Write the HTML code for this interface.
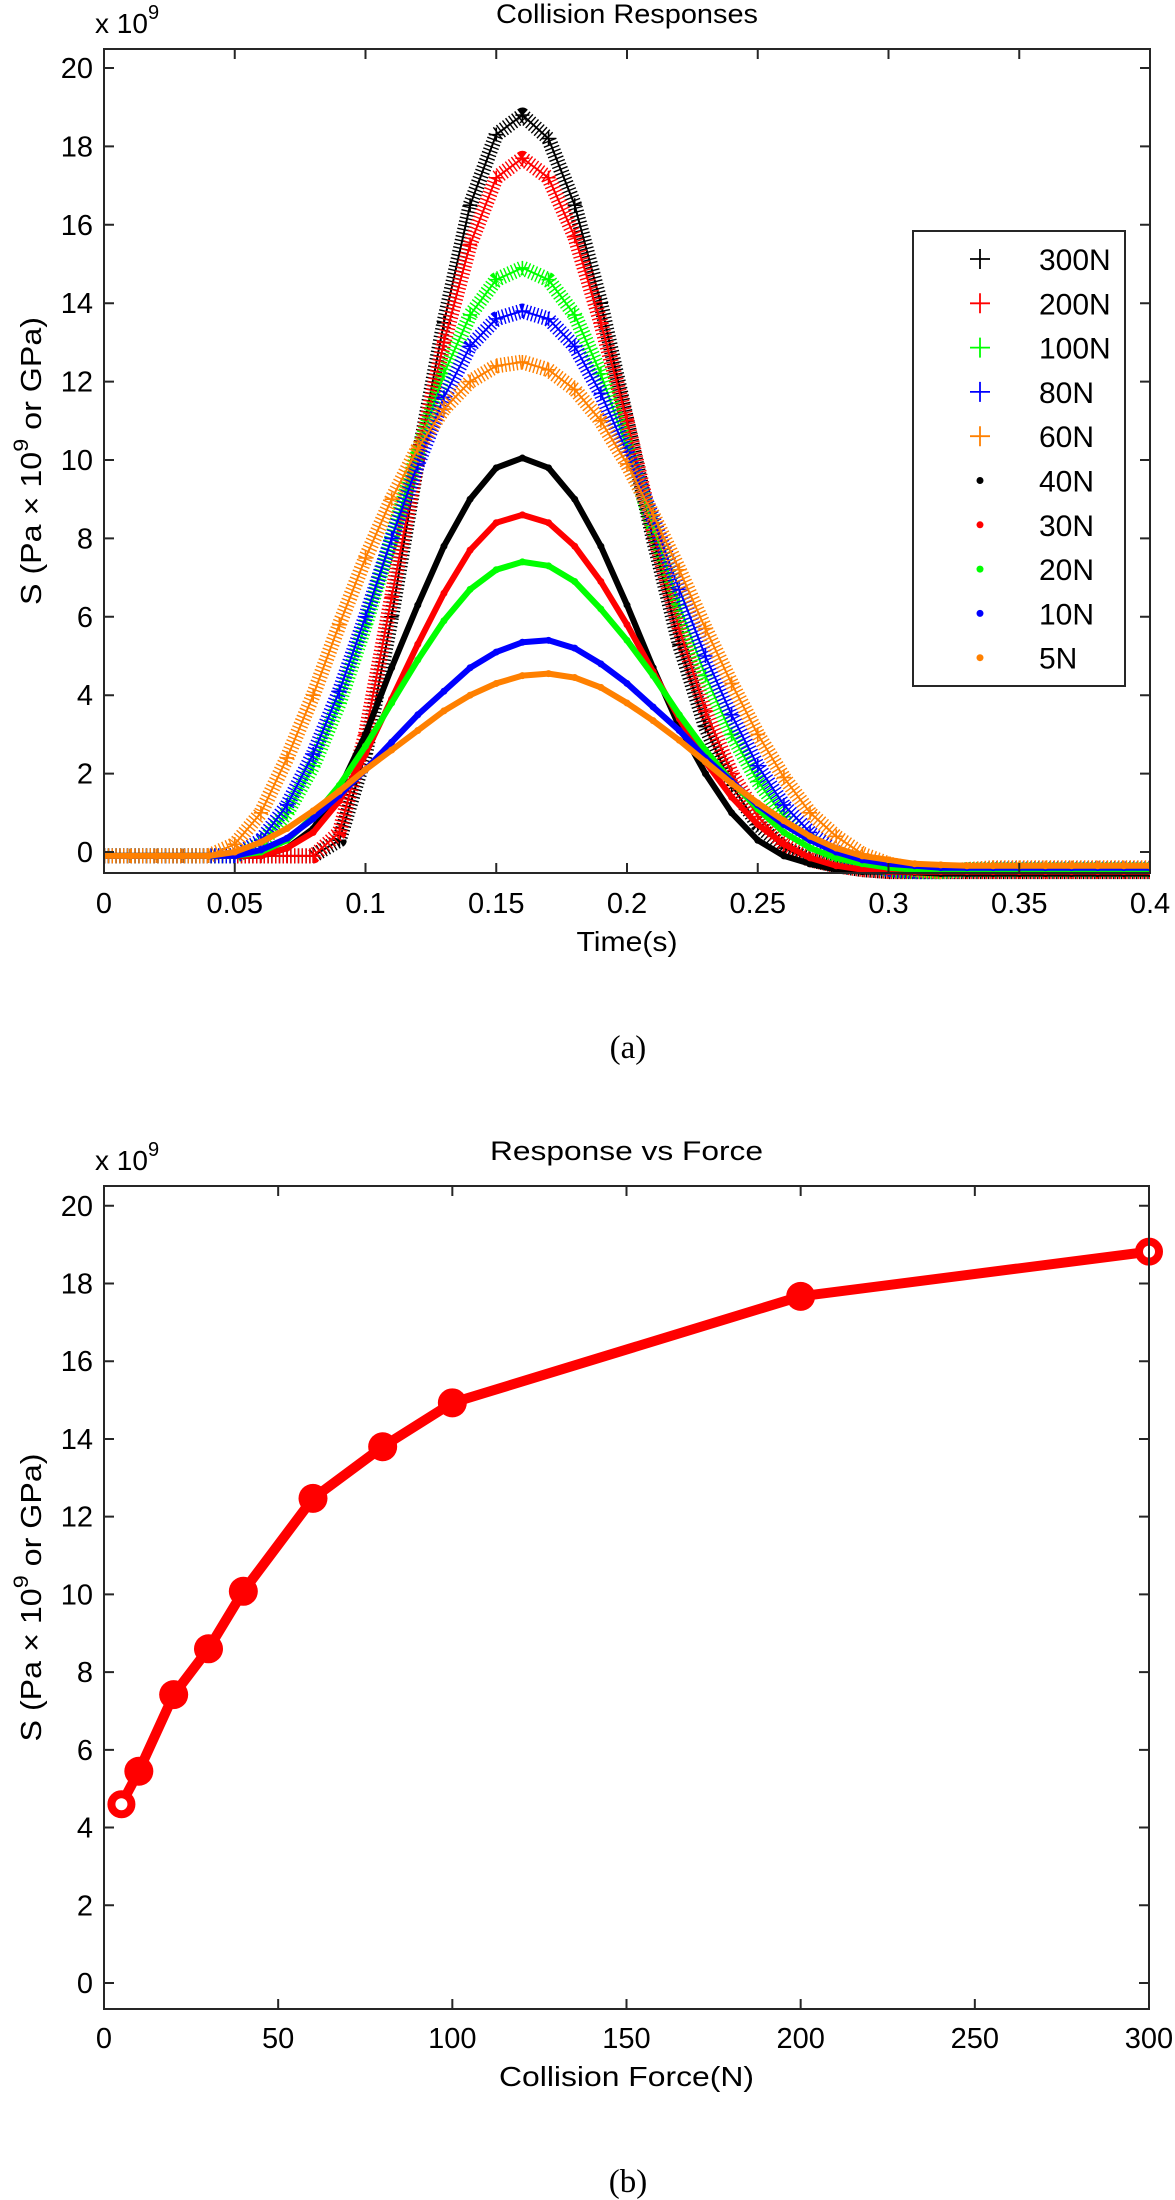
<!DOCTYPE html>
<html><head><meta charset="utf-8"><style>
html,body{margin:0;padding:0;background:#fff;}
svg{display:block;font-family:"Liberation Sans",Arial,sans-serif;}
</style></head><body>
<svg id="fig" width="1175" height="2200" viewBox="0 0 1175 2200" xmlns="http://www.w3.org/2000/svg">
<rect width="1175" height="2200" fill="#fff"/>
<g id="chartA"></g>
<g id="chartB"></g>
<text x="628" y="1058" font-family="Liberation Serif, serif" font-size="33" text-anchor="middle">(a)</text>
<text x="628" y="2192" font-family="Liberation Serif, serif" font-size="33" text-anchor="middle">(b)</text>
</svg>
<script>
// ---------- Chart A data ----------
const timeSamples = [0,0.01,0.02,0.03,0.04,0.05,0.06,0.07,0.08,0.09,0.10,0.11,0.12,0.13,0.14,0.15,0.16,0.17,0.18,0.19,0.20,0.21,0.22,0.23,0.24,0.25,0.26,0.27,0.28,0.29,0.30,0.31,0.32,0.33,0.34,0.35,0.36,0.37,0.38,0.39,0.40];
const seriesNames = ["300N","200N","100N","80N","60N","40N","30N","20N","10N","5N"];
const seriesColors = ["#000","#ff0000","#00ff00","#0000ff","#ff8000","#000","#ff0000","#00ff00","#0000ff","#ff8000"];
const seriesMarkers = ["plus","plus","plus","plus","plus","dot","dot","dot","dot","dot"];
const s300 = [-0.1,-0.1,-0.1,-0.1,-0.1,-0.1,-0.1,-0.1,-0.1,0.3,2.5,6,10,13.5,16.5,18.3,18.8,18.2,16.5,14,11,8,5.3,3.2,1.7,0.7,0.1,-0.2,-0.35,-0.45,-0.5,-0.5,-0.5,-0.5,-0.5,-0.5,-0.5,-0.5,-0.5,-0.5,-0.5];
const s200 = [-0.1,-0.1,-0.1,-0.1,-0.1,-0.1,-0.1,-0.1,-0.1,0.5,3,6.5,10,13,15.5,17.2,17.7,17.2,15.7,13.5,11,8.2,5.7,3.6,2,0.9,0.2,-0.2,-0.35,-0.45,-0.5,-0.5,-0.5,-0.5,-0.5,-0.5,-0.5,-0.5,-0.5,-0.5,-0.5];
const s100 = [-0.1,-0.1,-0.1,-0.1,-0.1,-0.1,0.2,1,2.2,3.8,5.8,8,10.2,12.2,13.7,14.6,14.9,14.6,13.7,12.2,10.3,8.3,6.3,4.5,3,1.8,0.9,0.3,-0.1,-0.3,-0.45,-0.5,-0.5,-0.45,-0.45,-0.45,-0.45,-0.45,-0.45,-0.45,-0.45];
const s80 = [-0.1,-0.1,-0.1,-0.1,-0.1,-0.1,0.3,1.2,2.5,4.1,6,8,9.9,11.6,12.9,13.6,13.8,13.6,12.9,11.7,10.2,8.5,6.7,5,3.5,2.2,1.2,0.5,0,-0.3,-0.45,-0.5,-0.5,-0.45,-0.42,-0.42,-0.42,-0.42,-0.42,-0.42,-0.42];
const s60 = [-0.1,-0.1,-0.1,-0.1,-0.1,0.2,1,2.4,4,5.8,7.5,9,10.3,11.3,12,12.4,12.5,12.3,11.8,11,9.9,8.6,7.2,5.7,4.3,3,1.9,1,0.4,-0.05,-0.3,-0.45,-0.5,-0.45,-0.4,-0.4,-0.4,-0.4,-0.4,-0.4,-0.4];
const s40 = [-0.1,-0.1,-0.1,-0.1,-0.1,-0.1,-0.1,0.1,0.6,1.6,3,4.7,6.3,7.8,9,9.8,10.05,9.8,9,7.8,6.3,4.7,3.2,2,1,0.3,-0.1,-0.3,-0.45,-0.5,-0.5,-0.52,-0.55,-0.55,-0.55,-0.55,-0.55,-0.55,-0.55,-0.55,-0.55];
const s30 = [-0.1,-0.1,-0.1,-0.1,-0.1,-0.1,-0.1,0.1,0.5,1.3,2.5,3.9,5.3,6.6,7.7,8.4,8.6,8.4,7.8,6.9,5.8,4.6,3.4,2.3,1.4,0.7,0.2,-0.15,-0.35,-0.45,-0.5,-0.5,-0.5,-0.5,-0.5,-0.5,-0.5,-0.5,-0.5,-0.5,-0.5];
const s20 = [-0.1,-0.1,-0.1,-0.1,-0.1,-0.1,0,0.3,0.9,1.7,2.7,3.8,4.9,5.9,6.7,7.2,7.4,7.3,6.9,6.2,5.4,4.5,3.5,2.6,1.8,1.1,0.5,0.1,-0.15,-0.3,-0.4,-0.45,-0.45,-0.45,-0.45,-0.45,-0.45,-0.45,-0.45,-0.45,-0.45];
const s10 = [-0.1,-0.1,-0.1,-0.1,-0.1,-0.1,0.05,0.35,0.85,1.45,2.1,2.8,3.5,4.1,4.7,5.1,5.35,5.4,5.2,4.8,4.3,3.7,3.1,2.4,1.8,1.2,0.7,0.3,0,-0.2,-0.3,-0.35,-0.4,-0.4,-0.4,-0.4,-0.4,-0.4,-0.4,-0.4,-0.4];
const s5 = [-0.1,-0.1,-0.1,-0.1,-0.1,0,0.25,0.6,1.05,1.55,2.1,2.6,3.1,3.6,4,4.3,4.5,4.55,4.45,4.2,3.8,3.35,2.85,2.3,1.75,1.25,0.8,0.4,0.1,-0.1,-0.2,-0.3,-0.33,-0.35,-0.35,-0.35,-0.35,-0.35,-0.35,-0.35,-0.35];
const xTicksA = [0,0.05,0.1,0.15,0.2,0.25,0.3,0.35,0.4];
const xTickLabelsA = ["0","0.05","0.1","0.15","0.2","0.25","0.3","0.35","0.4"];
const yTicksA = [0,2,4,6,8,10,12,14,16,18,20];
// ---------- Chart B data ----------
const forces = [5,10,20,30,40,60,80,100,200,300];
const peakValues = [4.6,5.45,7.42,8.6,10.08,12.47,13.8,14.93,17.67,18.82];
const xTicksB = [0,50,100,150,200,250,300];
const yTicksB = [0,2,4,6,8,10,12,14,16,18,20];

const NS = "http://www.w3.org/2000/svg";
function mk(parent, tag, attrs, text){
  const e = document.createElementNS(NS, tag);
  for (const k in attrs) e.setAttribute(k, attrs[k]);
  if (text !== undefined) e.textContent = text;
  parent.appendChild(e);
  return e;
}

function drawAxes(g, o){
  // frame
  const frame = mk(g,'rect',{x:o.L,y:o.T,width:o.R-o.L,height:o.B-o.T,fill:'none',stroke:'#262626','stroke-width':2});
  
  
  o.xt.forEach((v,i)=>{
    const x = o.sx(v);
    const t1 = mk(g,'path',{d:`M${x},${o.B}V${o.B-10}M${x},${o.T}V${o.T+10}`,stroke:'#262626','stroke-width':2});
    
    
    const lb = mk(g,'text',{x:x,y:o.xlabY,'font-size':29,'text-anchor':'middle'},o.xl[i]);
    
    
  });
  o.yt.forEach(v=>{
    const y = o.sy(v);
    const t1 = mk(g,'path',{d:`M${o.L},${y}H${o.L+10}M${o.R},${y}H${o.R-10}`,stroke:'#262626','stroke-width':2});
    
    
    const lb = mk(g,'text',{x:o.L-11,y:y+10,'font-size':29,'text-anchor':'end'},String(v));
    
    
  });
  const ex = mk(g,'text',{x:o.L-9,y:o.T-16,'font-size':28});
  
  
  mk(ex,'tspan',{},'x 10');
  mk(ex,'tspan',{dy:-14,'font-size':20},'9');
  const tt = mk(g,'text',{x:(o.L+o.R)/2,y:o.titleY,'font-size':27,'text-anchor':'middle',textLength:o.titleLen,lengthAdjust:'spacingAndGlyphs'},o.title);
  
  
  const xl = mk(g,'text',{x:(o.L+o.R)/2,y:o.xTitleY,'font-size':28,'text-anchor':'middle',textLength:o.xTitleLen,lengthAdjust:'spacingAndGlyphs'},o.xTitle);
  
  
  const cy = (o.T+o.B)/2;
  const yl = mk(g,'text',{x:0,y:0,'font-size':29,'text-anchor':'middle',transform:`translate(41,${cy}) rotate(-90)`,textLength:288,lengthAdjust:'spacingAndGlyphs'});
  
  
  mk(yl,'tspan',{},'S (Pa \u00d7 10');
  mk(yl,'tspan',{dy:-13,'font-size':21},'9');
  mk(yl,'tspan',{dy:13},' or GPa)');
}

// ---------- Chart A ----------
(function(){
  const g = document.getElementById('chartA');
  const L=104,R=1150,T=49,B=873;
  const sx = v => L + (v-0)/(0.4-0)*(R-L);
  const sy = v => 852 - v*39.2;
  const allSeries = [s300,s200,s100,s80,s60,s40,s30,s20,s10,s5];
  const clip = mk(g,'clipPath',{id:'clipA'});
  mk(clip,'rect',{x:L,y:T,width:R-L,height:B-T+12});
  const plot = mk(g,'g',{'clip-path':'url(#clipA)'});
  allSeries.forEach((vals,si)=>{
    const col = seriesColors[si];
    const sg = mk(plot,'g',{});
    
    
    const pts = vals.map((v,i)=>`${sx(timeSamples[i]).toFixed(1)},${sy(v).toFixed(1)}`).join(' ');
    if (seriesMarkers[si]==='plus'){
      mk(sg,'polyline',{points:pts,fill:'none',stroke:col,'stroke-width':15,'stroke-dasharray':'1.4 2.4','stroke-linejoin':'round'});
      mk(sg,'polyline',{points:pts,fill:'none',stroke:col,'stroke-width':2});
      vals.forEach((v,i)=>{
        const x=sx(timeSamples[i]), y=sy(v);
        const m = mk(sg,'path',{d:`M${x-7},${y}H${x+7}M${x},${y-7}V${y+7}`,stroke:col,'stroke-width':1.6});
        
        
      });
    } else {
      mk(sg,'polyline',{points:pts,fill:'none',stroke:col,'stroke-width':6,'stroke-linejoin':'round','stroke-linecap':'round'});
      vals.forEach((v,i)=>{
        const m = mk(sg,'circle',{cx:sx(timeSamples[i]),cy:sy(v),r:3.5,fill:col});
        
        
      });
    }
  });
  drawAxes(g,{L,R,T,B,sx,sy,xt:xTicksA,xl:xTickLabelsA,yt:yTicksA,xlabY:913,title:'Collision Responses',titleY:23,titleLen:262,xTitle:'Time(s)',xTitleY:951,xTitleLen:101});
  // legend
  const lg = mk(g,'g',{});
  
  
  mk(lg,'rect',{x:913,y:231,width:212,height:455,fill:'#fff',stroke:'#262626','stroke-width':2});
  seriesNames.forEach((n,i)=>{
    const y = 259 + i*44.3;
    const e = mk(lg,'g',{});
    
    
    if (seriesMarkers[i]==='plus') mk(e,'path',{d:`M970,${y}H990M980,${y-10}V${y+10}`,stroke:seriesColors[i],'stroke-width':1.8});
    else mk(e,'circle',{cx:980,cy:y,r:3.5,fill:seriesColors[i]});
    mk(e,'text',{x:1039,y:y+11,'font-size':30},n);
  });
})();

// ---------- Chart B ----------
(function(){
  const g = document.getElementById('chartB');
  const L=104,R=1149,T=1186,B=2009;
  const sx = v => L + v/300*(R-L);
  const sy = v => 1983 - v*38.86;
  const sg = mk(g,'g',{});
  
  
  const pts = forces.map((f,i)=>`${sx(f).toFixed(1)},${sy(peakValues[i]).toFixed(1)}`).join(' ');
  const line = mk(sg,'polyline',{points:pts,fill:'none',stroke:'#ff0000','stroke-width':10,'stroke-linejoin':'round'});
  
  
  forces.forEach((f,i)=>{
    const open = (i===0 || i===forces.length-1);
    const c = open ? mk(sg,'circle',{cx:sx(f),cy:sy(peakValues[i]),r:10,fill:'#fff',stroke:'#ff0000','stroke-width':8})
                   : mk(sg,'circle',{cx:sx(f),cy:sy(peakValues[i]),r:14.5,fill:'#ff0000'});
    
    
  });
  drawAxes(g,{L,R,T,B,sx,sy,xt:xTicksB,xl:xTicksB.map(String),yt:yTicksB,xlabY:2048,title:'Response vs Force',titleY:1160,titleLen:273,xTitle:'Collision Force(N)',xTitleY:2086,xTitleLen:255});
})();
</script>
</body></html>
